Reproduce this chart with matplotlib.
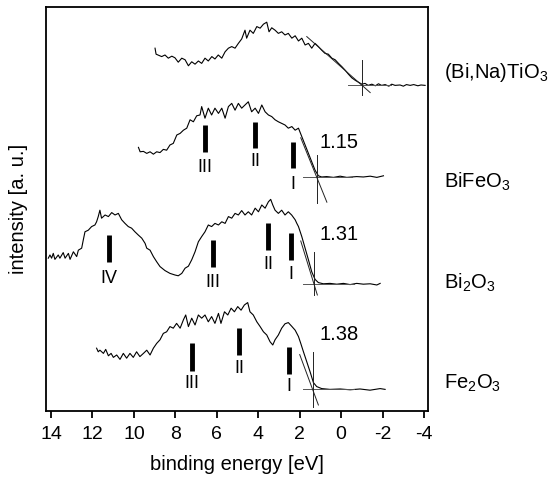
import matplotlib
matplotlib.use('Agg')
import matplotlib.pyplot as plt

plt.rcParams.update({
    "font.family": ["Liberation Sans", "DejaVu Sans"],
    "font.size": 14, "mathtext.fontset": "custom",
    "mathtext.rm": "Liberation Sans", "mathtext.it": "Liberation Sans",
})

# (Bi,Na)TiO3
bnt_e = [8.98, 8.93, 8.66, 8.50, 8.34, 8.17, 8.02, 7.86, 7.69, 7.53, 7.37, 7.21, 7.05, 6.89,
         6.73, 6.57, 6.41, 6.24, 6.09, 5.93, 5.76, 5.60, 5.44, 5.28, 5.12, 4.96, 4.80, 4.64,
         4.56, 4.40, 4.24, 4.07, 3.91, 3.75, 3.59, 3.48, 3.35, 3.19, 3.03, 2.87, 2.71, 2.55,
         2.38, 2.22, 2.06, 1.90, 1.74, 1.58, 1.42, 1.26, 1.10, 0.94, 0.78, 0.62, 0.45, 0.29,
         0.13, -0.03, -0.19, -0.35, -0.51, -0.67, -0.83, -1.00, -1.15, -1.30, -1.48, -1.65,
         -1.80, -1.95, -2.12, -2.30, -2.44, -2.60, -2.84, -3.00, -3.15, -3.33, -3.50, -3.70,
         -3.85, -4.05]
bnt_i = [90.7, 89.2, 88.6, 89.0, 88.2, 88.7, 88.3, 87.2, 88.2, 87.8, 86.3, 87.3, 86.7, 87.5,
         86.9, 88.2, 87.5, 88.6, 88.0, 89.0, 88.2, 89.8, 90.7, 91.1, 90.7, 91.9, 93.0, 95.2,
         93.2, 95.2, 94.4, 96.1, 95.7, 96.7, 97.2, 94.8, 95.8, 95.2, 94.4, 94.8, 94.0, 94.4,
         93.2, 93.8, 92.5, 93.2, 91.5, 91.9, 90.7, 91.9, 91.1, 90.2, 89.4, 89.2, 88.2, 87.8,
         86.9, 86.1, 85.2, 84.2, 83.3, 82.7, 82.2, 81.7, 81.9, 81.4, 81.7, 81.3, 81.8, 81.4,
         81.6, 81.2, 81.7, 81.4, 81.5, 81.2, 81.6, 81.4, 81.6, 81.3, 81.5, 81.4]

# BiFeO3
bfo_e = [9.78, 9.70, 9.54, 9.38, 9.22, 9.06, 8.90, 8.74, 8.58, 8.42, 8.26, 8.10, 7.93, 7.77,
         7.61, 7.45, 7.29, 7.13, 6.97, 6.81, 6.73, 6.57, 6.41, 6.25, 6.09, 5.92, 5.76, 5.60,
         5.44, 5.28, 5.12, 4.96, 4.80, 4.64, 4.48, 4.32, 4.15, 3.99, 3.83, 3.67, 3.51, 3.35,
         3.19, 3.03, 2.87, 2.71, 2.55, 2.38, 2.22, 2.06, 1.90, 1.74, 1.58, 1.42, 1.26, 1.10,
         0.94, 0.70, 0.37, 0.05, -0.27, -0.75, -1.07, -1.40, -1.72, -2.04]
bfo_i = [65.9, 64.8, 64.9, 64.4, 64.8, 64.2, 64.8, 64.6, 65.4, 65.2, 66.5, 66.9, 69.0, 69.4,
         70.2, 70.7, 72.8, 72.3, 73.8, 74.0, 76.1, 73.2, 75.7, 74.0, 75.7, 74.4, 75.7, 73.2,
         76.1, 76.9, 75.2, 76.9, 75.7, 76.5, 77.3, 74.8, 75.7, 74.4, 76.5, 74.8, 74.0, 73.6,
         72.8, 72.3, 71.9, 71.5, 70.7, 71.1, 70.2, 70.7, 68.6, 66.5, 64.4, 62.3, 60.2, 58.8,
         58.5, 58.6, 58.4, 58.7, 58.4, 58.6, 58.5, 58.7, 58.4, 58.8]

# Bi2O3
bio_e = [14.13, 14.05, 13.97, 13.89, 13.81, 13.65, 13.57, 13.41, 13.32, 13.16, 13.08, 12.92,
         12.76, 12.68, 12.52, 12.44, 12.36, 12.20, 12.04, 11.88, 11.80, 11.72, 11.64, 11.56,
         11.39, 11.23, 11.07, 10.91, 10.75, 10.59, 10.43, 10.27, 10.11, 9.95, 9.79, 9.62,
         9.46, 9.38, 9.22, 9.06, 8.90, 8.74, 8.50, 8.26, 8.02, 7.86, 7.69, 7.53, 7.37, 7.21,
         7.05, 6.89, 6.73, 6.57, 6.41, 6.25, 6.09, 5.92, 5.76, 5.60, 5.44, 5.28, 5.12, 4.96,
         4.80, 4.64, 4.48, 4.32, 4.15, 3.99, 3.83, 3.67, 3.51, 3.40, 3.30, 3.19, 3.03, 2.87,
         2.71, 2.55, 2.39, 2.22, 2.14, 2.06, 1.90, 1.74, 1.58, 1.42, 1.26, 1.10, 0.86, 0.54,
         0.21, -0.11, -0.43, -0.75, -1.07, -1.40, -1.72, -1.88]
bio_i = [38.2, 39.0, 38.2, 39.4, 37.9, 39.0, 38.2, 39.6, 38.2, 39.4, 37.9, 39.8, 38.6, 40.2,
         40.7, 42.8, 44.8, 45.2, 46.1, 46.5, 47.3, 48.6, 50.2, 48.2, 49.0, 48.6, 49.6, 49.0,
         49.4, 47.8, 46.9, 46.1, 45.7, 44.8, 44.0, 43.2, 41.9, 40.7, 40.2, 38.6, 37.3, 36.1,
         35.1, 34.4, 34.0, 33.8, 34.4, 35.7, 36.2, 37.8, 39.8, 42.3, 43.6, 44.8, 46.5, 46.1,
         46.9, 46.5, 47.3, 46.9, 48.6, 48.2, 49.4, 49.0, 50.1, 49.0, 49.8, 49.0, 50.7, 49.8,
         51.5, 50.7, 52.3, 52.9, 51.5, 50.2, 49.4, 50.2, 49.0, 49.8, 49.0, 47.8, 46.9, 46.1,
         43.6, 40.7, 37.8, 34.8, 32.9, 32.1, 31.8, 31.9, 31.7, 31.9, 31.6, 31.9, 31.7, 31.8,
         31.5, 31.9]

# Fe2O3
feo_e = [11.80, 11.72, 11.64, 11.47, 11.36, 11.23, 11.10, 10.99, 10.83, 10.67, 10.51, 10.35,
         10.19, 10.03, 9.87, 9.71, 9.54, 9.38, 9.22, 9.06, 8.90, 8.74, 8.58, 8.42, 8.26, 8.10,
         7.94, 7.77, 7.61, 7.50, 7.37, 7.21, 7.05, 6.89, 6.73, 6.57, 6.41, 6.25, 6.09, 5.92,
         5.80, 5.63, 5.47, 5.31, 5.15, 4.99, 4.83, 4.67, 4.51, 4.40, 4.24, 4.07, 3.91, 3.75,
         3.59, 3.43, 3.30, 3.19, 3.03, 2.87, 2.71, 2.55, 2.39, 2.22, 2.06, 1.95, 1.82, 1.66,
         1.50, 1.34, 1.18, 0.94, 0.54, 0.05, -0.43, -0.91, -1.39, -1.88, -2.12]
feo_i = [15.7, 14.8, 15.2, 14.4, 15.4, 13.8, 14.4, 13.4, 14.0, 12.9, 14.4, 13.2, 14.4, 13.4,
         14.8, 13.6, 14.4, 15.2, 14.0, 15.7, 16.9, 17.8, 19.4, 19.8, 21.1, 20.7, 21.9, 20.7,
         22.8, 24.0, 21.1, 23.2, 21.5, 24.0, 23.2, 24.0, 22.3, 23.6, 21.9, 24.4, 21.9, 24.8,
         24.0, 25.7, 24.8, 26.1, 25.2, 26.5, 27.1, 24.8, 24.0, 22.3, 21.1, 19.8, 19.0, 17.3,
         16.5, 17.8, 19.0, 20.7, 21.8, 22.1, 21.2, 20.2, 18.6, 16.9, 14.8, 12.3, 9.8, 7.1, 6.1,
         5.6, 5.4, 5.5, 5.3, 5.5, 5.2, 5.6, 5.4]

spectra = [(bnt_e, bnt_i), (bfo_e, bfo_i), (bio_e, bio_i), (feo_e, feo_i)]
names = ['(Bi,Na)TiO$_3$', 'BiFeO$_3$', 'Bi$_2$O$_3$', 'Fe$_2$O$_3$']
name_y = [84.5, 57.2, 32.0, 7.0]

# band-edge construction: onset, baseline level, baseline start/end, vertical span, tangent end points
onsets = [-1.0, 1.15, 1.31, 1.38]
onset_text = ['', '1.15', '1.31', '1.38']
onset_text_y = [0, 67.1, 44.0, 19.0]
base_level = [81.4, 58.6, 31.8, 5.4]
base_span = [(-0.33, -2.4), (1.84, -0.5), (1.82, -0.6), (1.82, -0.6)]
vert_span = [(87.8, 79.0), (64.0, 52.0), (39.8, 29.0), (14.8, 1.1)]
tangents = [((1.66, 93.6), (-1.40, 79.6)), ((1.95, 68.3), (0.69, 52.2)),
            ((1.95, 42.5), (1.15, 29.0)), ((2.0, 14.1), (1.10, 1.5))]

# peak markers: (label, energy, bar top, bar bottom, label y)
markers = [
    ('III', 6.57, 71.5, 64.8, 60.8), ('II', 4.15, 72.3, 65.7, 62.3),
    ('I', 2.31, 67.3, 60.7, 56.5),
    ('IV', 11.20, 44.0, 37.3, 33.2), ('III', 6.17, 42.8, 36.1, 32.0),
    ('II', 3.51, 46.9, 40.2, 36.5), ('I', 2.42, 44.4, 37.8, 34.0),
    ('III', 7.21, 16.9, 10.1, 6.9), ('II', 4.91, 20.7, 14.0, 10.7),
    ('I', 2.51, 16.1, 9.2, 6.2),
]

fig = plt.figure(figsize=(5.53, 4.78), dpi=100)
ax = fig.add_axes([0.0832, 0.1402, 0.6908, 0.8452])

for k, (e, i) in enumerate(spectra):
    ax.plot(e, i, color='black', lw=0.8)
    ax.plot(base_span[k], [base_level[k]] * 2, color='#555555', lw=0.7)
    ax.plot([onsets[k]] * 2, vert_span[k], color='#222222', lw=0.7)
    (x0, y0), (x1, y1) = tangents[k]
    ax.plot([x0, x1], [y0, y1], color='#222222', lw=0.7)
    if onset_text[k]:
        ax.text(0.12, onset_text_y[k], onset_text[k], ha='center', va='center', fontsize=14.5)
    ax.text(1.042, name_y[k], names[k], transform=ax.get_yaxis_transform(),
            ha='left', va='center', fontsize=14.5, clip_on=False)

for lab, en, top, bot, ly in markers:
    ax.plot([en, en], [bot, top], color='black', lw=3.5, solid_capstyle='butt')
    ax.text(en, ly, lab, ha='center', va='center', fontsize=13)

ax.set_xlim(14.24, -4.19)
ax.set_ylim(0, 101)
ax.set_xticks(range(14, -5, -2))
ax.set_xticklabels([str(v) for v in range(14, -5, -2)])
ax.set_yticks([])
ax.tick_params(axis='x', direction='out', length=5, width=1.3, labelsize=14, pad=5.5)
for s in ax.spines.values():
    s.set_linewidth(1.3)
ax.set_xlabel('binding energy [eV]', fontsize=14.5, labelpad=9)
ax.set_ylabel('intensity [a. u.]', fontsize=14.5, labelpad=13)

fig.savefig('out.png', dpi=100)
